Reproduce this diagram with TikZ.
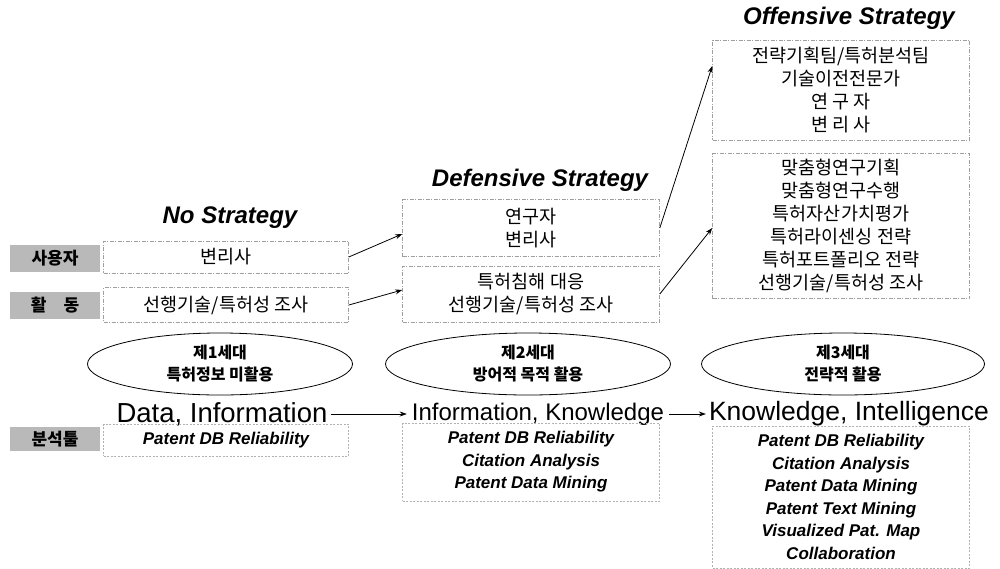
\documentclass[tikz,border=0pt]{standalone}
\usepackage{fontspec}
\setmainfont{Liberation Sans}
\newfontfamily\kr{Noto Sans CJK KR}
\usetikzlibrary{arrows.meta,shapes.geometric}

\tikzset{
  px/.style={x=1pt,y=-1pt},
  frame/.style={draw=gray!75, line width=0.6pt, dash pattern=on 4pt off 1.5pt on 1pt off 1.5pt,
    inner sep=0pt, align=center, font=\kr\fontsize{18.5}{23}\selectfont},
  tag/.style={fill=gray!55, minimum width=90pt, inner sep=0pt, align=center,
    font=\kr\bfseries\fontsize{17}{20}\selectfont},
  gen/.style={ellipse, draw, line width=0.8pt, inner sep=0pt, align=center,
    font=\kr\bfseries\fontsize{16}{22}\selectfont},
  head/.style={font=\bfseries\itshape\fontsize{24}{28}\selectfont},
  flow/.style={font=\fontsize{25}{30}\selectfont, inner sep=5pt},
  tool/.style={draw=gray!60, line width=0.5pt, dash pattern=on 2pt off 1.5pt,
    inner sep=0pt, align=center, font=\bfseries\itshape\fontsize{17}{22.5}\selectfont},
  link/.style={-{Stealth[length=7pt,width=5pt]}, line width=0.8pt},
}

\begin{document}
\begin{tikzpicture}[px]
\useasboundingbox (0,0) rectangle (1000,568);

% row labels
\node[tag, minimum height=27pt] (user) at (55,258) {사용자};
\node[tag, minimum height=27pt] (act)  at (55,305) {활\quad 동};
\node[tag, minimum height=24pt] (tool) at (55,439) {분석툴};

% strategy headings
\node[head] (h1) at (230,218) {No Strategy};
\node[head] (h2) at (540,180) {Defensive Strategy};
\node[head] (h3) at (849,18)  {Offensive Strategy};

% first generation
\node[frame, minimum width=245pt, minimum height=32pt] (c1u) at (226,257) {변리사};
\node[frame, minimum width=245pt, minimum height=35pt] (c1a) at (226,305) {선행기술/특허성 조사};

% second generation
\node[frame, minimum width=257pt, minimum height=57pt] (c2u) at (531,228) {연구자\\변리사};
\node[frame, minimum width=257pt, minimum height=56pt] (c2a) at (531,294) {특허침해 대응\\선행기술/특허성 조사};

% third generation
\node[frame, minimum width=257pt, minimum height=100pt] (c3u) at (841,90)
  {전략기획팀/특허분석팀\\기술이전전문가\\연\ 구\ 자\\변\ 리\ 사};
\node[frame, minimum width=257pt, minimum height=145pt] (c3a) at (841,226)
  {맞춤형연구기획\\맞춤형연구수행\\특허자산가치평가\\특허라이센싱 전략\\특허포트폴리오 전략\\선행기술/특허성 조사};

% generations
\node[gen, minimum width=265pt, minimum height=62pt] (g1) at (220,364) {제1세대\\특허정보 미활용};
\node[gen, minimum width=285pt, minimum height=62pt] (g2) at (528,364) {제2세대\\방어적 목적 활용};
\node[gen, minimum width=283pt, minimum height=62pt] (g3) at (843,364) {제3세대\\전략적 활용};

% data flow line
\node[flow, font=\fontsize{27.5}{30}\selectfont, inner sep=3pt] (d1) at (222,414) {Data, Information};
\node[flow, font=\fontsize{24}{30}\selectfont] (d2) at (538,414) {Information, Knowledge};
\node[flow, font=\fontsize{26.5}{30}\selectfont, inner sep=3pt] (d3) at (849,414) {Knowledge, Intelligence};

% analysis tools
\node[tool, minimum width=245pt, minimum height=32pt] (t1) at (226,440) {Patent DB Reliability};
\node[tool, minimum width=257pt, minimum height=78pt] (t2) at (531,462)
  {Patent DB Reliability\\Citation Analysis\\Patent Data Mining};
\node[tool, minimum width=257pt, minimum height=142pt] (t3) at (841,497)
  {Patent DB Reliability\\Citation Analysis\\Patent Data Mining\\Patent Text Mining\\Visualized Pat. Map\\Collaboration};

% connectors
\draw[link] (c1u.east) -- ([yshift=-6pt]c2u.west);
\draw[link] (c1a.east) -- ([yshift=4pt]c2a.west);
\draw[link] (c2u.east) -- ([yshift=24pt]c3u.west);
\draw[link] (c2a.east) -- ([yshift=-2pt]c3a.west);
\draw[link, line width=0.6pt] (d1.east) -- (d2.west);
\draw[link, line width=0.6pt] (d2.east) -- (d3.west);
\end{tikzpicture}
\end{document}
